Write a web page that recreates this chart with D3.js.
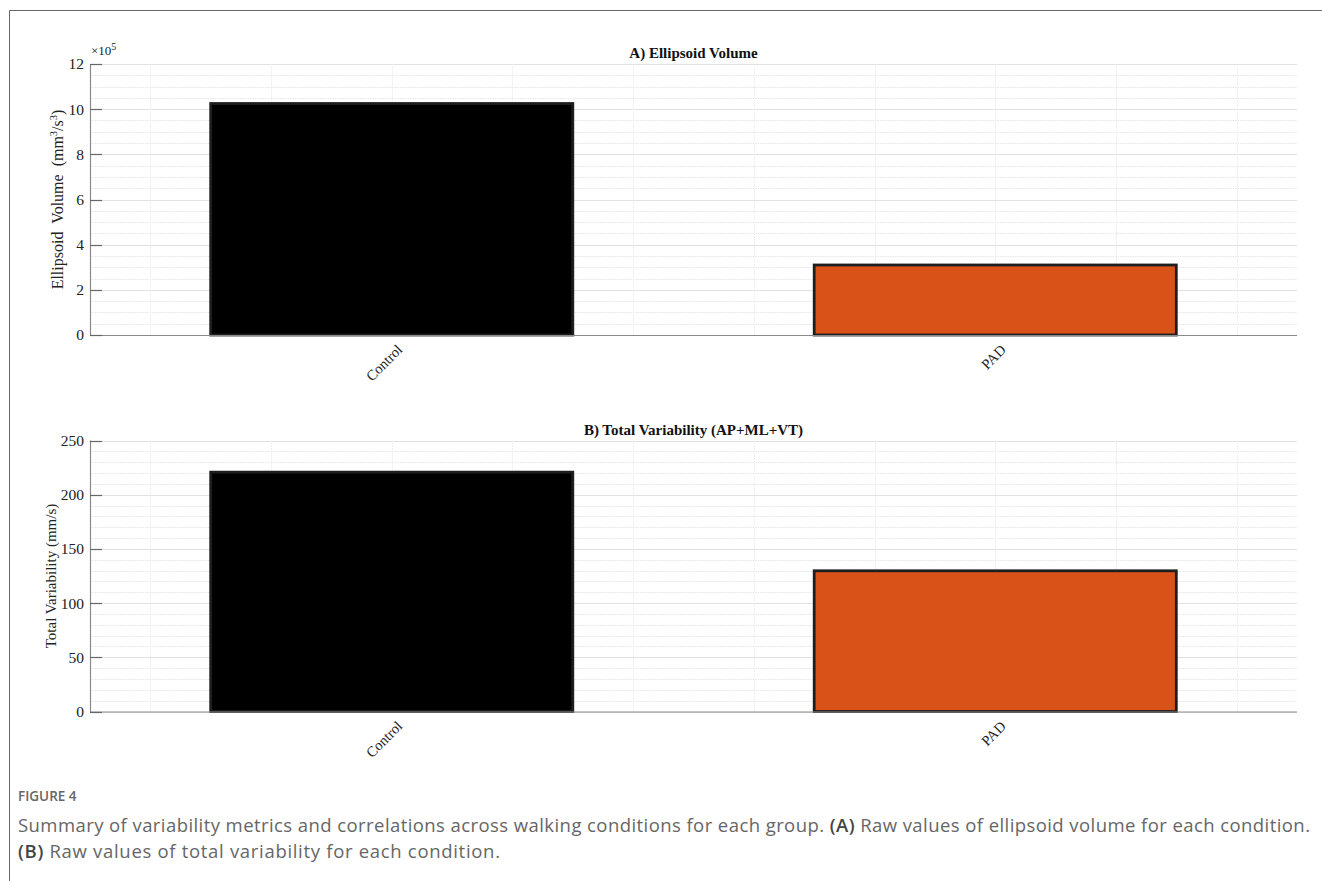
<!DOCTYPE html>
<html>
<head>
<meta charset="utf-8">
<script src="https://cdn.jsdelivr.net/npm/d3@7"></script>
<style>
  html, body { margin: 0; padding: 0; background: #fff; }
  svg { display: block; }
</style>
</head>
<body>
<svg id="fig" width="1322" height="881"></svg>
<script>
// Groups and per-panel values
const groups = ["Control", "PAD"];
const groupColors = ["#000000", "#D95319"];

const ellipsoidVolume = [10.25, 3.1];        // ×10^5 mm^3/s^3
const ellipsoidTicks = [0, 2, 4, 6, 8, 10, 12];
const ellipsoidMinorStep = 0.5;

const totalVariability = [220.8, 129.8];     // mm/s
const variabilityTicks = [0, 50, 100, 150, 200, 250];
const variabilityMinorStep = 10;

const panelTitles = ["A) Ellipsoid Volume", "B) Total Variability (AP+ML+VT)"];

const svg = d3.select("#fig");
const serif = "'Liberation Serif', 'Times New Roman', serif";
const sans = "'Open Sans', 'Noto Sans', sans-serif";

// Outer frame (top and left rules)
svg.append("line").attr("x1", 9.5).attr("x2", 1322).attr("y1", 10.5).attr("y2", 10.5)
  .attr("stroke", "#666").attr("stroke-width", 1);
svg.append("line").attr("x1", 9.5).attr("x2", 9.5).attr("y1", 10.5).attr("y2", 881)
  .attr("stroke", "#666").attr("stroke-width", 1);

const left = 90, right = 1297;

function drawPanel(cfg) {
  const g = svg.append("g");
  const x = d3.scaleLinear().domain([0.5, 2.5]).range([left, right]);
  const y = d3.scaleLinear().domain([cfg.ticks[0], cfg.ticks[cfg.ticks.length - 1]])
    .range([cfg.bottom, cfg.top]);

  // minor horizontal grid
  const ymax = cfg.ticks[cfg.ticks.length - 1];
  const minor = d3.range(0, ymax + 1e-9, cfg.minorStep);
  g.append("g").selectAll("line").data(minor).join("line")
    .attr("x1", left).attr("x2", right)
    .attr("y1", d => Math.round(y(d)) + 0.5).attr("y2", d => Math.round(y(d)) + 0.5)
    .attr("stroke", "#e6e6e6").attr("stroke-width", 1)
    .attr("stroke-dasharray", "1.5,1");
  // major horizontal grid
  g.append("g").selectAll("line").data(cfg.ticks).join("line")
    .attr("x1", left).attr("x2", right)
    .attr("y1", d => Math.round(y(d)) + 0.5).attr("y2", d => Math.round(y(d)) + 0.5)
    .attr("stroke", "#e2e2e2").attr("stroke-width", 1);
  // vertical grid
  const vgrid = d3.range(0.6, 2.45, 0.2);
  g.append("g").selectAll("line").data(vgrid).join("line")
    .attr("x1", d => Math.round(x(d)) + 0.5).attr("x2", d => Math.round(x(d)) + 0.5)
    .attr("y1", cfg.top).attr("y2", cfg.bottom)
    .attr("stroke", "#ececec").attr("stroke-width", 1)
    .attr("stroke-dasharray", "1.5,1");

  // bars
  const barW = 0.6;
  g.append("g").selectAll("rect").data(cfg.values).join("rect")
    .attr("x", (d, i) => x(i + 1 - barW / 2))
    .attr("width", x(1 + barW) - x(1))
    .attr("y", d => y(d))
    .attr("height", d => y(0) - y(d))
    .attr("fill", (d, i) => groupColors[i])
    .attr("stroke", "#1e1e1e")
    .attr("stroke-width", 2.8);

  // axes lines
  g.append("line").attr("x1", left + 0.5).attr("x2", left + 0.5)
    .attr("y1", cfg.top).attr("y2", cfg.bottom + 0.5)
    .attr("stroke", "#8a8a8a").attr("stroke-width", 1.2);
  g.append("line").attr("x1", left).attr("x2", right)
    .attr("y1", cfg.bottom + 0.5).attr("y2", cfg.bottom + 0.5)
    .attr("stroke", "#8a8a8a").attr("stroke-width", 1.2);

  // y ticks (inward) and labels
  const yt = g.append("g");
  yt.selectAll("line").data(cfg.ticks).join("line")
    .attr("x1", left).attr("x2", left + 12)
    .attr("y1", d => Math.round(y(d)) + 0.5).attr("y2", d => Math.round(y(d)) + 0.5)
    .attr("stroke", "#666").attr("stroke-width", 1.2);
  yt.selectAll("text").data(cfg.ticks).join("text")
    .attr("x", left - 6).attr("y", d => y(d))
    .attr("dy", "0.35em")
    .attr("text-anchor", "end")
    .attr("font-family", serif).attr("font-size", 15.5)
    .attr("fill", "#222")
    .text(d => d);

  // x tick labels, rotated
  g.append("g").selectAll("text").data(groups).join("text")
    .attr("transform", (d, i) => `translate(${x(i + 1) + 8},${cfg.bottom + 12}) rotate(-45)`)
    .attr("text-anchor", "end")
    .attr("dy", "0.35em")
    .attr("font-family", serif).attr("font-size", 14.5)
    .attr("fill", "#222")
    .text(d => d);

  // y axis title
  const yl = g.append("text")
    .attr("transform", `translate(${cfg.ylabelX},${(cfg.top + cfg.bottom) / 2}) rotate(-90)`)
    .attr("text-anchor", "middle")
    .attr("font-family", serif).attr("font-size", cfg.ylabelSize)
    .attr("fill", "#222");
  cfg.ylabel(yl);

  // panel title
  g.append("text")
    .attr("x", (left + right) / 2).attr("y", cfg.top - 6)
    .attr("text-anchor", "middle")
    .attr("font-family", serif).attr("font-size", 15).attr("font-weight", "bold")
    .attr("fill", "#111")
    .text(cfg.title);

  return { g, x, y };
}

const pA = drawPanel({
  values: ellipsoidVolume, ticks: ellipsoidTicks, minorStep: ellipsoidMinorStep,
  top: 64, bottom: 335, title: panelTitles[0], ylabelX: 63, ylabelSize: 16,
  ylabel: t => {
    t.attr("word-spacing", 4);
    t.append("tspan").text("Ellipsoid Volume (mm");
    t.append("tspan").attr("font-size", 10.5).attr("dy", -6).text("3");
    t.append("tspan").attr("dy", 6).text("/s");
    t.append("tspan").attr("font-size", 10.5).attr("dy", -6).text("3");
    t.append("tspan").attr("dy", 6).text(")");
  }
});
// exponent multiplier
const expo = pA.g.append("text").attr("x", 91).attr("y", 55)
  .attr("font-family", serif).attr("font-size", 13).attr("fill", "#222");
expo.append("tspan").text("×10");
expo.append("tspan").attr("font-size", 10).attr("dy", -5).text("5");

drawPanel({
  values: totalVariability, ticks: variabilityTicks, minorStep: variabilityMinorStep,
  top: 440.5, bottom: 711.5, title: panelTitles[1], ylabelX: 56, ylabelSize: 15,
  ylabel: t => t.text("Total Variability (mm/s)")
});

// caption
svg.append("text").attr("x", 18).attr("y", 801)
  .attr("font-family", sans).attr("font-size", 13.5).attr("font-weight", 600)
  .attr("fill", "#666").text("FIGURE 4");
const cap1 = svg.append("text").attr("x", 18).attr("y", 832)
  .attr("font-family", sans).attr("font-size", 18.5).attr("fill", "#666")
  .attr("textLength", 1292).attr("lengthAdjust", "spacing");
cap1.append("tspan").text("Summary of variability metrics and correlations across walking conditions for each group. ");
cap1.append("tspan").attr("font-weight", 600).attr("fill", "#444").text("(A)");
cap1.append("tspan").text(" Raw values of ellipsoid volume for each condition.");
const cap2 = svg.append("text").attr("x", 18).attr("y", 858)
  .attr("font-family", sans).attr("font-size", 18.5).attr("fill", "#666")
  .attr("textLength", 482).attr("lengthAdjust", "spacing");
cap2.append("tspan").attr("font-weight", 600).attr("fill", "#444").text("(B)");
cap2.append("tspan").text(" Raw values of total variability for each condition.");
</script>
</body>
</html>
